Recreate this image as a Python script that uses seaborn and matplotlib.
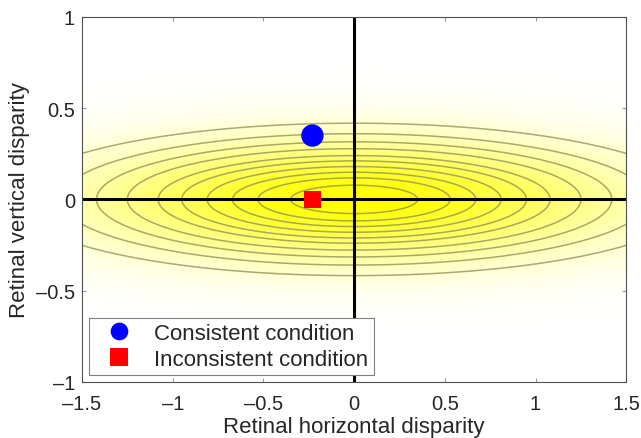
import numpy as np
import pandas as pd
import matplotlib
matplotlib.use("Agg")
import matplotlib.pyplot as plt
from matplotlib.colors import LinearSegmentedColormap
import seaborn as sns

# points
conditions = ["Consistent condition", "Inconsistent condition"]
horiz = [-0.23, -0.23]
vert = [0.35, 0.0]
point_colors = ["#0000ff", "#ff0000"]
point_markers = ["o", "s"]

# prior ellipses: half-widths along horizontal axis
contour_radii = [0.35, 0.53, 0.67, 0.81, 0.95, 1.08, 1.25, 1.42, 1.62, 1.88]
aspect = 4.5      # horizontal / vertical spread
spread = 1.0      # width of the yellow background

xticks = [-1.5, -1, -0.5, 0, 0.5, 1, 1.5]
yticks = [-1, -0.5, 0, 0.5, 1]

sns.set_style("white")
plt.rcParams["font.family"] = ["Liberation Sans", "DejaVu Sans"]

fig = plt.figure(figsize=(6.41, 4.39), dpi=100)
ax = fig.add_axes([0.128, 0.128, 0.849, 0.831])

gx = np.linspace(-1.5, 1.5, 400)
gy = np.linspace(-1, 1, 300)
X, Y = np.meshgrid(gx, gy)
R = np.sqrt(X**2 + (aspect * Y) ** 2)
dens = np.exp(-R**2 / (2 * spread**2))

cmap = LinearSegmentedColormap.from_list("wy", ["#ffffff", "#ffff00"])
ax.imshow(dens, extent=[-1.5, 1.5, -1, 1], origin="lower", cmap=cmap,
          aspect="auto", vmin=0, vmax=1, zorder=0)
ax.contour(X, Y, R, levels=contour_radii, colors="#86864a", linewidths=1.1,
           alpha=0.7, zorder=1)

ax.axhline(0, color="black", lw=2.2, zorder=2)
ax.axvline(0, color="black", lw=2.2, zorder=2)

df = pd.DataFrame({"x": horiz, "y": vert, "cond": conditions})
sns.scatterplot(data=df, x="x", y="y", hue="cond", style="cond",
                palette=dict(zip(conditions, point_colors)),
                markers=dict(zip(conditions, point_markers)),
                s=200, linewidth=0, ax=ax, zorder=3)
coll = ax.collections[-1]
coll.set_sizes([260, 150])

ax.set_xlim(-1.5, 1.5)
ax.set_ylim(-1, 1)
ax.set_xticks(xticks)
ax.set_yticks(yticks)
ax.set_xticklabels([f"{t:g}".replace("-", "\u2013") for t in xticks])
ax.set_yticklabels([f"{t:g}".replace("-", "\u2013") for t in yticks])
ax.tick_params(direction="in", length=3, color="#999999", labelsize=14.5,
               top=True, right=True, bottom=True, left=True)
ax.tick_params(axis="x", pad=9)
ax.tick_params(axis="y", pad=5)
for s in ax.spines.values():
    s.set_color("#505050")
    s.set_linewidth(0.8)

ax.set_xlabel("Retinal horizontal disparity", fontsize=16, labelpad=2)
ax.set_ylabel("Retinal vertical disparity", fontsize=16, labelpad=4)

handles, labels = ax.get_legend_handles_labels()
leg = ax.legend(handles, labels, loc="lower left", fontsize=16, frameon=True,
                fancybox=False, edgecolor="#808080", framealpha=1,
                borderaxespad=0.3, handletextpad=0.5, labelspacing=0.2,
                borderpad=0.25, markerscale=0.9, handlelength=2.2)
leg.get_frame().set_linewidth(0.8)

fig.savefig("out.png", dpi=100)
